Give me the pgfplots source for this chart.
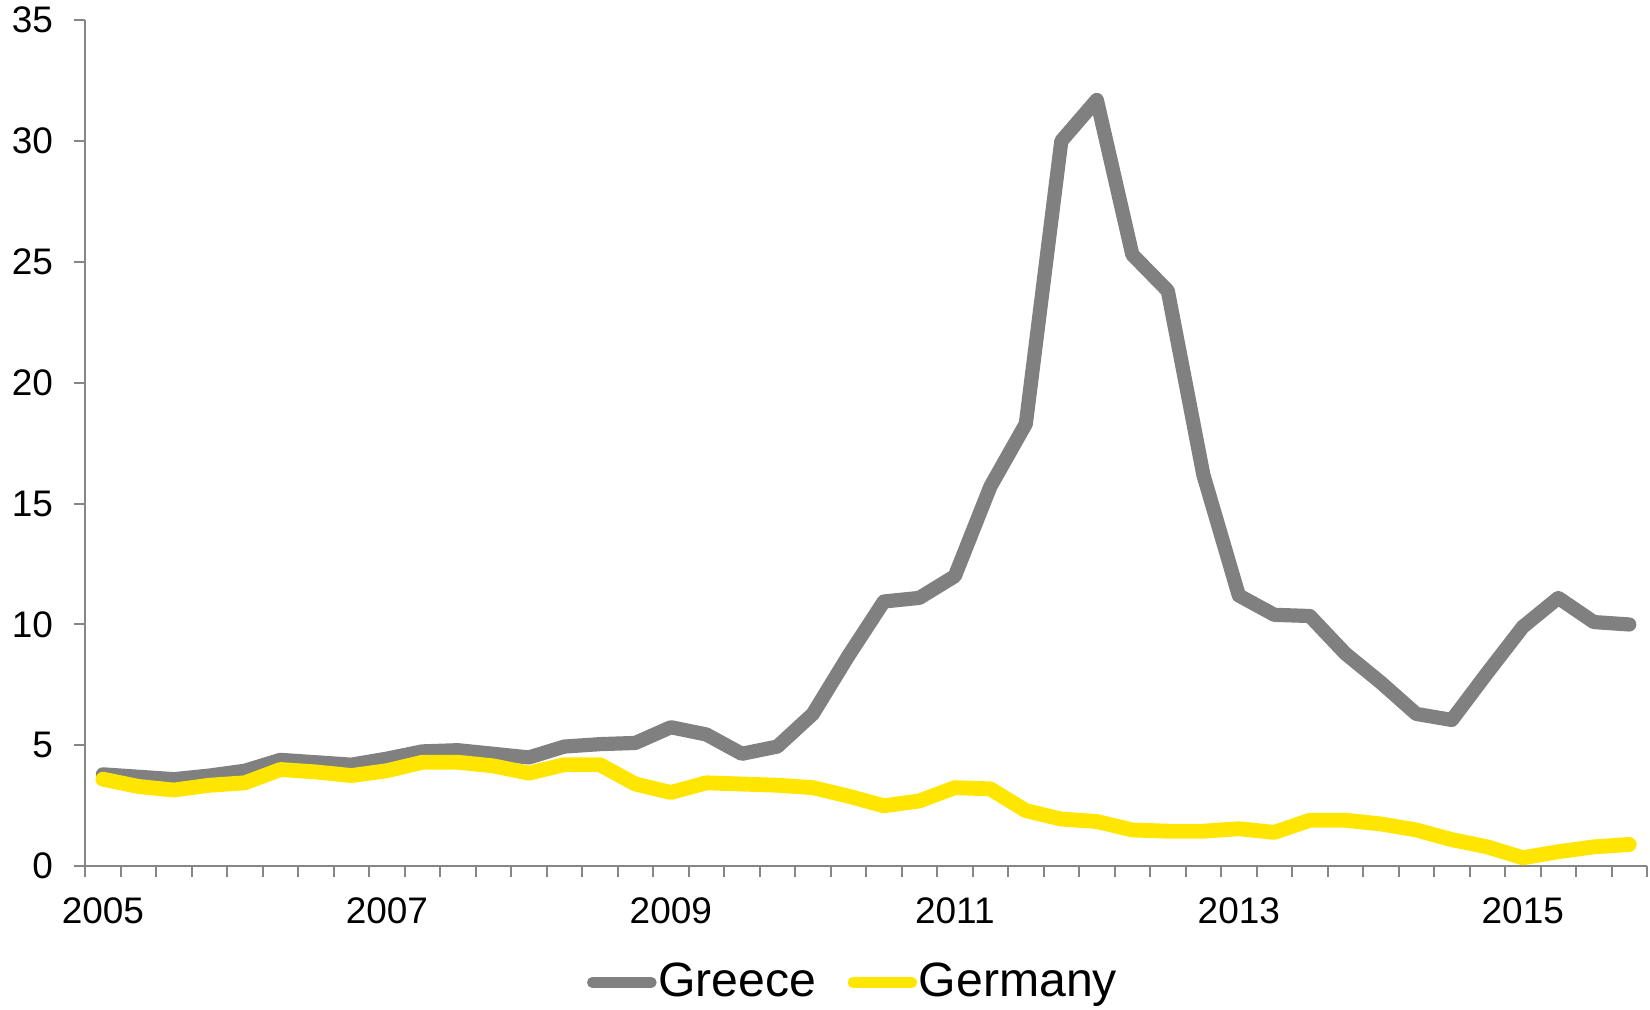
\documentclass[border=0pt]{standalone}
\usepackage{pgfplots}
\pgfplotsset{compat=1.18}
\usepackage{fontspec}
\setmainfont{Liberation Sans}
\definecolor{grc}{HTML}{808080}
\definecolor{ger}{HTML}{FFE600}
\definecolor{axc}{HTML}{868686}
\pgfplotstableread{
i gr de
0 3.8 3.6
1 3.7 3.3
2 3.6 3.15
3 3.75 3.35
4 3.95 3.45
5 4.4 4.0
6 4.3 3.9
7 4.2 3.75
8 4.45 3.95
9 4.75 4.3
10 4.8 4.3
11 4.65 4.15
12 4.5 3.85
13 4.95 4.2
14 5.05 4.2
15 5.1 3.4
16 5.75 3.05
17 5.45 3.45
18 4.65 3.4
19 4.95 3.35
20 6.3 3.25
21 8.7 2.9
22 10.95 2.5
23 11.1 2.7
24 12.0 3.25
25 15.7 3.2
26 18.3 2.3
27 30.0 1.95
28 31.7 1.85
29 25.3 1.5
30 23.8 1.45
31 16.2 1.45
32 11.2 1.55
33 10.4 1.4
34 10.35 1.9
35 8.8 1.9
36 7.6 1.75
37 6.3 1.5
38 6.05 1.1
39 8.0 0.8
40 9.9 0.35
41 11.1 0.6
42 10.1 0.8
43 10.0 0.9
}\data
\begin{document}
\begin{tikzpicture}
\begin{axis}[name=ax,
  scale only axis, width=473.3pt, height=256.4pt,
  xmin=-0.5, xmax=43.5, ymin=0, ymax=35,
  axis x line*=bottom, axis y line*=left,
  axis line style={color=axc, line width=0.6pt},
  tick align=outside, tick style={color=axc, line width=0.6pt},
  major tick length=3.3pt,
  xtick={-0.5,0.5,...,43.5}, xticklabels={},
  extra x ticks={0,8,16,24,32,40},
  extra x tick labels={2005,2007,2009,2011,2013,2015},
  extra x tick style={major tick length=0pt},
  ytick={0,5,...,35},
  ticklabel style={font=\fontsize{11.2}{13}\selectfont},
  /pgf/number format/assume math mode=true,
  xticklabel style={anchor=north, yshift=-5.9pt},
  yticklabel style={anchor=east, xshift=-2.9pt},
  legend columns=2,
  legend style={at={(0.5,0)}, anchor=center, yshift=-35.2pt, xshift=-4pt,
    draw=none, fill=none, font=\fontsize{14.6}{17}\selectfont,
    nodes={inner xsep=0.5pt},
    /tikz/every even column/.append style={column sep=9pt}},
  legend image code/.code={\draw[#1, line width=3.1pt] (0pt,0pt) -- (18pt,0pt);},
]
\addplot[grc, line width=4.3pt, line cap=round, line join=round] table[x=i, y=gr] {\data};
\addlegendentry{Greece}
\addplot[ger, line width=4.5pt, line cap=round, line join=round] table[x=i, y=de] {\data};
\addlegendentry{Germany}
\end{axis}
\pgfresetboundingbox
\path ([shift={(-25.8pt,-43.3pt)}]ax.south west) rectangle ([shift={(0.9pt,6.1pt)}]ax.north east);
\end{tikzpicture}
\end{document}
